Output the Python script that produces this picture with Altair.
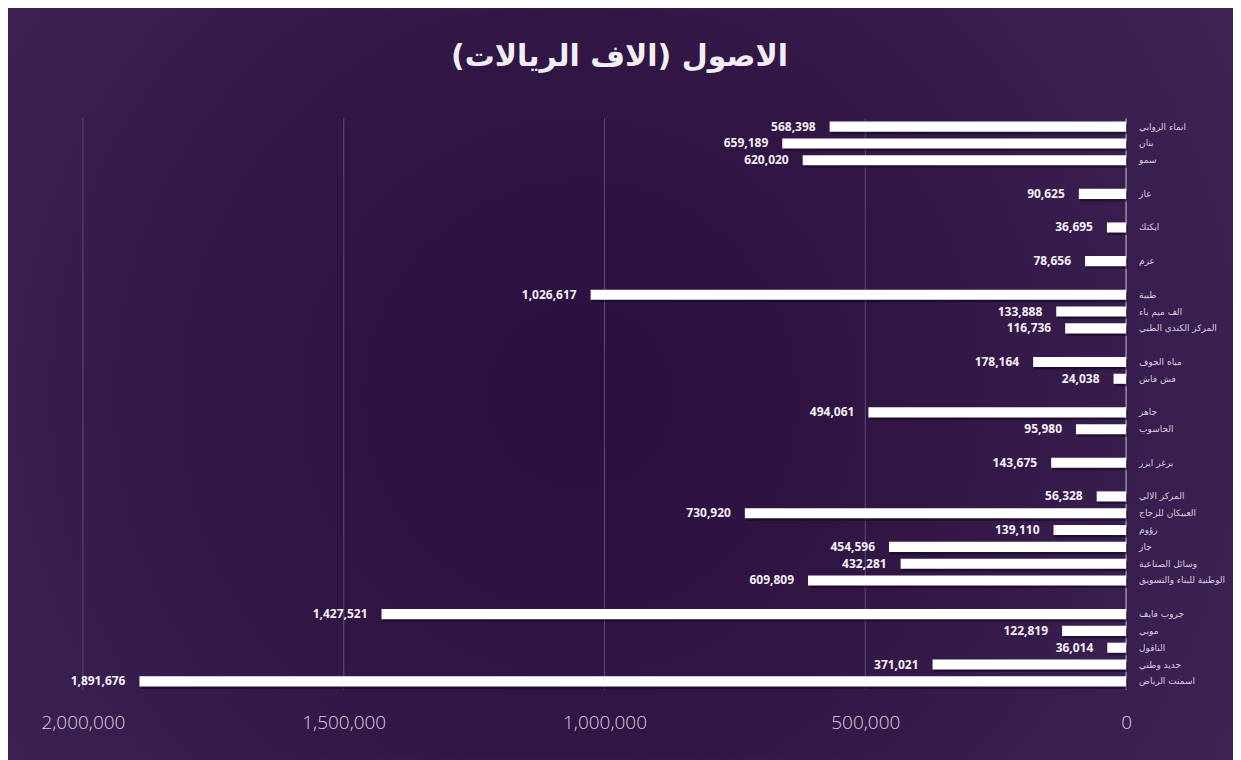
import altair as alt
import pandas as pd

companies = ["انماء الروابي", "بنان", "سمو", "", "غاز", "", "ايكتك", "", "عزم", "",
             "طبية", "الف ميم ياء", "المركز الكندي الطبي", "", "مياه الجوف", "فش فاش", "",
             "جاهز", "الحاسوب", "", "برغر ايزر", "", "المركز الالي", "العبيكان للزجاج",
             "رؤوم", "جاز", "وسائل الصناعية", "الوطنية للبناء والتسويق", "",
             "جروب فايف", "موبي", "الناقول", "حديد وطني", "اسمنت الرياض"]
assets = [568398, 659189, 620020, None, 90625, None, 36695, None, 78656, None,
          1026617, 133888, 116736, None, 178164, 24038, None,
          494061, 95980, None, 143675, None, 56328, 730920,
          139110, 454596, 432281, 609809, None,
          1427521, 122819, 36014, 371021, 1891676]
ticks = [0, 500000, 1000000, 1500000, 2000000]
title_text = "الاصول (الاف الريالات)"

W, H = 1044, 572
PAD = {"left": 75, "top": 110, "right": 107, "bottom": 70}
BG = "#3b2151"

df = pd.DataFrame({"row": list(range(len(companies))), "company": companies, "assets": assets})
df["label"] = [f"{int(v):,}" if pd.notna(v) else "" for v in df["assets"]]
bars_df = df[df["assets"].notna()].copy()

xscale = alt.Scale(domain=[0, 2000000], reverse=True, nice=False, zero=True)
xaxis = alt.Axis(values=ticks, labelExpr="format(datum.value, ',')", grid=False, ticks=False,
                 domain=False, labelFontSize=19, labelColor="#d8d0de", labelPadding=24,
                 labelFont="Open Sans", labelFontWeight=300, labelFlush=False,
                 labelOverlap=False, zindex=2, title=None)
yscale = alt.Scale(domain=list(range(len(companies))), paddingInner=0.4, paddingOuter=0.2)
y_enc = alt.Y("row:O", axis=None, scale=yscale)


def xq(field):
    return alt.X(field, scale=xscale, axis=xaxis, title=None)


bg = alt.Chart(alt.Data(values=[{"a": 1}])).mark_rect(
    color={"gradient": "radial",
           "stops": [{"offset": 0, "color": "#2a1040"},
                     {"offset": 0.45, "color": "#301545"},
                     {"offset": 1, "color": "#3e2455"}],
           "x1": 0.467, "y1": 0.51, "r1": 0, "x2": 0.467, "y2": 0.51, "r2": 0.6}
).encode(
    x=alt.value(-PAD["left"]), x2=alt.value(W + PAD["right"]),
    y=alt.value(-PAD["top"]), y2=alt.value(H + PAD["bottom"])
)

grid = alt.Chart(pd.DataFrame({"t": ticks[1:]})).mark_rule(color="#5a4470", strokeWidth=1.2).encode(
    x=xq("t:Q")
)

zero_rule = alt.Chart(pd.DataFrame({"t": [0]})).mark_rule(color="#9a8caa", strokeWidth=1.5).encode(
    x=xq("t:Q")
)

shadow = alt.Chart(bars_df).mark_bar(color="#12051c", opacity=0.55, yOffset=2.5, xOffset=1.5).encode(
    x=xq("assets:Q"),
    y=y_enc,
)

bars = alt.Chart(bars_df).mark_bar(color="#ffffff").encode(
    x=xq("assets:Q"),
    y=y_enc,
)

values_txt = alt.Chart(bars_df).mark_text(
    align="right", baseline="middle", dx=-14, fontSize=12, fontWeight="bold",
    font="Open Sans", color="#f4f0f6"
).encode(
    x=xq("assets:Q"),
    y=y_enc,
    text="label:N",
)

names_txt = alt.Chart(bars_df).mark_text(
    align="left", baseline="middle", dx=13, fontSize=9, font="DejaVu Sans", color="#d6cfdc"
).encode(
    x=alt.datum(0),
    y=y_enc,
    text="company:N",
)

chart = alt.layer(bg, grid, zero_rule, shadow, bars, values_txt, names_txt).properties(
    width=W, height=H,
    autosize=alt.AutoSizeParams(type="none"),
    padding=PAD,
    background=BG,
    title=alt.TitleParams(title_text, fontSize=30, fontWeight="bold", color="#f2eef5",
                          font="DejaVu Sans", anchor="middle", frame="group", dx=15,
                          baseline="alphabetic", offset=-88),
).configure_view(stroke=None)

chart.save("out.html", embed_options={"renderer": "svg", "actions": False})
